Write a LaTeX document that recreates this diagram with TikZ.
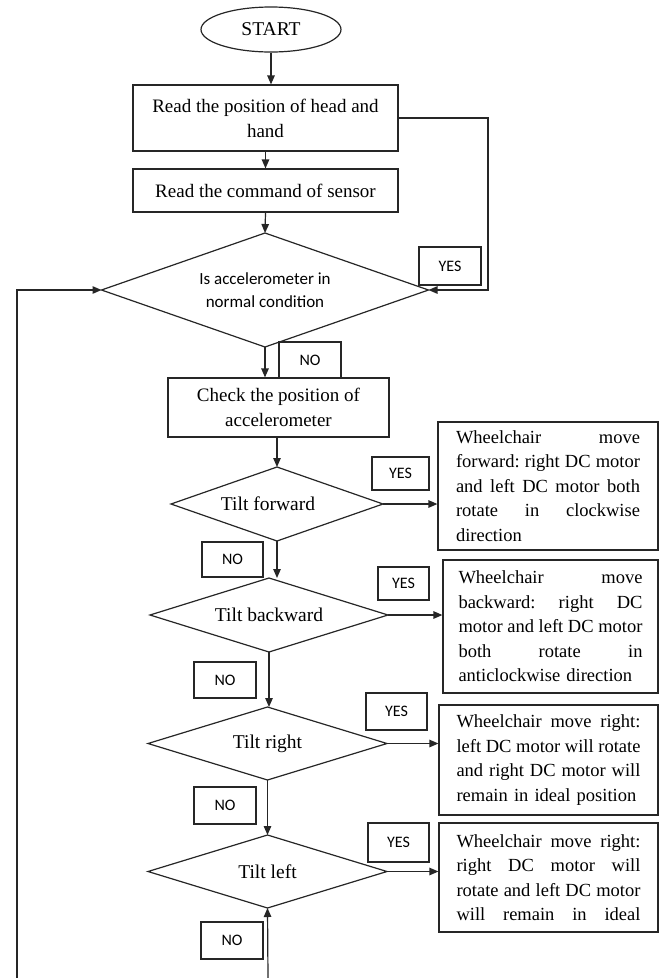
\documentclass[tikz,border=0pt]{standalone}
\usepackage{fontspec}
\setmainfont{Liberation Serif}
\newfontfamily\calfont{Carlito}
\usetikzlibrary{shapes.geometric,arrows.meta}
\newcommand{\diaoutline}[1]{\draw[ln, line join=miter] (#1.north) -- (#1.east) -- (#1.south) -- (#1.west) -- cycle;}
\newcommand{\jline}[1]{\leavevmode\hbox to 184pt{#1}}
\begin{document}
\begin{tikzpicture}[x=1pt,y=-1pt,
 ln/.style={line width=1.2pt, draw=black!85},
 arr/.style={ln,-{Triangle[length=9pt,width=7.5pt]}},
 proc/.style={ln, rectangle, inner sep=0pt, align=center, font=\fontsize{19}{25}\selectfont},
 act/.style={ln, rectangle, inner sep=0pt, align=left, text width=184pt, font=\fontsize{18.5}{24.5}\selectfont},
 dec/.style={rectangle, inner sep=0pt, outer sep=0pt, align=center, font=\fontsize{19.5}{24}\selectfont},
 lbl/.style={ln, rectangle, inner sep=0pt, font=\calfont\fontsize{16}{19}\selectfont},
]
\path[fill=white] (0,0) rectangle (663,978);
\useasboundingbox (0,0) rectangle (663,978);

\node[ln, ellipse, inner sep=0pt, minimum width=140pt, minimum height=45pt, font=\fontsize{19.5}{24}\selectfont] (start) at (271,29.5) {START};
\node[proc, minimum width=265pt, minimum height=66pt] (read1) at (265.5,118) {Read the position of head and\\hand};
\node[proc, minimum width=265pt, minimum height=43pt] (read2) at (265.5,190.5) {Read the command of sensor};
\node[dec, minimum width=327pt, minimum height=114pt, font=\calfont\fontsize{17}{23}\selectfont] (d1) at (265,290) {Is accelerometer in\\normal condition};
\node[proc, minimum width=221pt, minimum height=59pt] (chk) at (278.5,407.5) {Check the position of\\accelerometer};
\node[dec, minimum width=212pt, minimum height=74pt] (d2) at (277,504) {Tilt forward\kern18pt};
\node[dec, minimum width=238pt, minimum height=74pt] (d3) at (269,615) {Tilt backward};
\node[dec, minimum width=239pt, minimum height=73pt] (d4) at (267.5,743.5) {Tilt right};
\node[dec, minimum width=239pt, minimum height=73pt] (d5) at (267.5,871.5) {Tilt left};
\diaoutline{d1}
\diaoutline{d2}
\diaoutline{d3}
\diaoutline{d4}
\diaoutline{d5}

\node[act, minimum width=220pt, minimum height=128pt] (a1) at (548,486) {%
\jline{Wheelchair\hfill move}\\
\jline{forward:\hfill right\hfill DC\hfill motor}\\
\jline{and\hfill left\hfill DC\hfill motor\hfill both}\\
\jline{rotate\hfill in\hfill clockwise}\\
direction};
\node[act, minimum width=215pt, minimum height=133pt] (a2) at (550.5,626.5) {%
\jline{Wheelchair\hfill move}\\
\jline{backward:\hfill right\hfill DC}\\
\jline{motor\hfill and\hfill left\hfill DC\hfill motor}\\
\jline{both\hfill rotate\hfill in}\\
anticlockwise direction};
\node[act, minimum width=219pt, minimum height=110pt] (a3) at (548.5,760) {%
\jline{Wheelchair\hfill move\hfill right:}\\
\jline{left\hfill DC\hfill motor\hfill will\hfill rotate}\\
\jline{and\hfill right\hfill DC\hfill motor\hfill will}\\
remain in ideal position};
\node[act, minimum width=219pt, minimum height=109pt] (a4) at (548.5,877.5) {%
\jline{Wheelchair\hfill move\hfill right:}\\
\jline{right\hfill DC\hfill motor\hfill will}\\
\jline{rotate\hfill and\hfill left\hfill DC\hfill motor}\\
\jline{will\hfill remain\hfill in\hfill ideal}};

\node[lbl, minimum width=62pt, minimum height=38pt] (y1) at (450,266) {YES};
\node[lbl, minimum width=62pt, minimum height=36pt] (n1) at (310,360) {NO};
\node[lbl, minimum width=57pt, minimum height=33pt] (y2) at (400.5,473.5) {YES};
\node[lbl, minimum width=61pt, minimum height=35pt] (n2) at (232.5,559.5) {NO};
\node[lbl, minimum width=51pt, minimum height=33pt] (y3) at (403.5,583.5) {YES};
\node[lbl, minimum width=62pt, minimum height=36pt] (n3) at (225,680) {NO};
\node[lbl, minimum width=61pt, minimum height=37pt] (y4) at (396.5,711.5) {YES};
\node[lbl, minimum width=62pt, minimum height=37pt] (n4) at (225,805.5) {NO};
\node[lbl, minimum width=61pt, minimum height=39pt] (y5) at (398.5,842.5) {YES};
\node[lbl, minimum width=62pt, minimum height=37pt] (n5) at (232,940.5) {NO};

\coordinate (loopR) at (488,116);
\coordinate (lb) at (17,978);
\coordinate (bb) at (268,978);

\draw[arr] (start.south) -- (start.south |- read1.north);
\draw[arr] (read1.south) -- (read2.north);
\draw[arr] (read2.south) -- (d1.north);
\draw[arr] (read1.east) -- (read1.east -| loopR) |- (d1.east);
\draw[arr] (d1.south) -- (d1.south |- chk.north);
\draw[arr] (d2.north |- chk.south) -- (d2.north);
\draw[arr] (d2.south) -- (d2.south |- d3.north);
\draw[arr] (d3.south) -- (d3.south |- d4.north);
\draw[arr] (d4.south) -- (d5.north);
\draw[arr] (d2.east) -- (d2.east -| a1.west);
\draw[arr] (d3.east) -- (d3.east -| a2.west);
\draw[arr] (d4.east) -- (d4.east -| a3.west);
\draw[arr] (d5.east) -- (d5.east -| a4.west);
\draw[arr] (lb) |- (d1.west);
\draw[arr] (bb) -- (d5.south);
\end{tikzpicture}
\end{document}
